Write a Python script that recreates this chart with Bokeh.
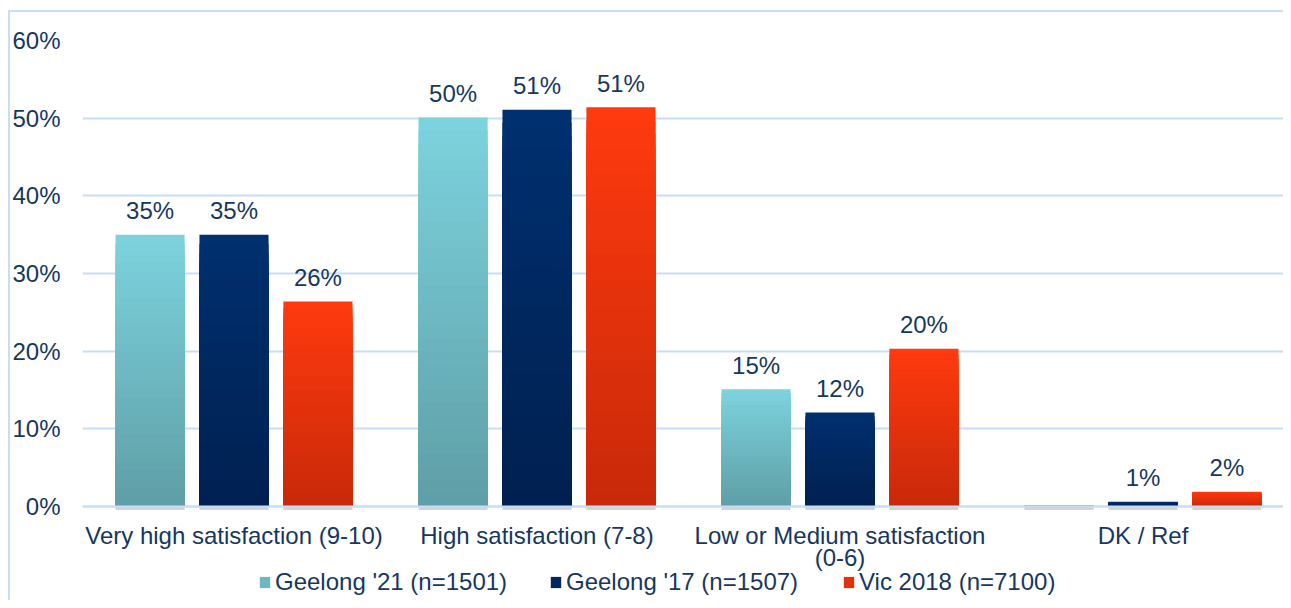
from bokeh.plotting import figure
from bokeh.models import Range1d, Legend, LegendItem, ColumnDataSource, FixedTicker
from bokeh.embed import file_html
from bokeh.resources import INLINE
from bokeh.core.properties import value

# ---- data ----
categories = ["Very high satisfaction (9-10)", "High satisfaction (7-8)",
              "Low or Medium satisfaction\n(0-6)", "DK / Ref"]
series_names = ["Geelong '21 (n=1501)", "Geelong '17 (n=1507)", "Vic 2018 (n=7100)"]
geelong21 = [35.0, 50.1, 15.1, 0.2]
geelong17 = [35.0, 51.1, 12.1, 0.6]
vic2018 = [26.4, 51.4, 20.3, 1.9]
y_ticks = [0, 10, 20, 30, 40, 50, 60]
y_tick_labels = ["0%", "10%", "20%", "30%", "40%", "50%", "60%"]

# ---- styles ----
FONT = "Liberation Sans"
TEXT = "#17375E"
GRID = "#C6DFF8"
BORDER = "#C6DFF7"
tops = [(125, 211, 222), (0, 48, 112), (255, 58, 14)]
bottoms = [(94, 158, 166), (0, 32, 80), (200, 41, 10)]
offsets = [-0.277, 0.0, 0.277]
legend_x = [176, 467, 760]
BAR_W = 0.228
N = 30
PLOT_W, LEFT = 1283, 82
CAT_PX = 303.0  # pixel width of one category slot (chart extends past the right edge)

# category slot centres (0.5, 1.5, ...) on a linear scale
cat_x = [i + 0.5 for i in range(len(categories))]

p = figure(x_range=Range1d(0, (PLOT_W - LEFT) / CAT_PX),
           y_range=Range1d(-12.1, 60),
           width=PLOT_W, height=600, output_backend="svg", toolbar_location=None,
           min_border_left=LEFT, min_border_right=0, min_border_top=40, min_border_bottom=0)
p.styles = {"background": ("linear-gradient(%s,%s) 8px 10px / 2px 100%% no-repeat, "
                           "linear-gradient(%s,%s) 8px 10px / 100%% 2px no-repeat, white")
            % (BORDER, BORDER, BORDER, BORDER)}
p.outline_line_color = None
p.background_fill_color = None
p.border_fill_color = None

series_values = [geelong21, geelong17, vic2018]
for s, vals in enumerate(series_values):
    xs = [c + offsets[s] for c in cat_x]
    # soft shadow under bar base
    ssrc = ColumnDataSource(dict(x=xs))
    p.vbar(x="x", top=0, bottom=-0.45, width=BAR_W, source=ssrc,
           fill_color="#B8B8B8", fill_alpha=0.6, line_color=None)

    legend_r = None
    for k in range(N):
        f = 1.0 - k / N
        h = f - 0.5 / N
        c = tuple(int(round(bottoms[s][i] + (tops[s][i] - bottoms[s][i]) * h)) for i in range(3))
        col = "#%02x%02x%02x" % c
        src = ColumnDataSource(dict(x=xs, top=[v * f for v in vals]))
        r = p.vbar(x="x", top="top", bottom=0, width=BAR_W, source=src,
                   fill_color=col, line_color=None)
        if k == N // 2:
            legend_r = r

    legend = Legend(items=[LegendItem(label=series_names[s], renderers=[legend_r])],
                    orientation="horizontal", location=(legend_x[s], 4),
                    label_text_font=FONT, label_text_font_size="24px", label_text_color=TEXT,
                    glyph_width=13, glyph_height=14, label_standoff=4, spacing=0,
                    padding=0, margin=0, border_line_color=None, background_fill_alpha=0)
    p.add_layout(legend, "center")

    labels = [("%d%%" % round(v)) if v >= 0.5 else "" for v in vals]
    lsrc = ColumnDataSource(dict(x=xs, y=vals, text=labels))
    p.text(x="x", y="y", text="text", source=lsrc,
           text_align="center", text_baseline="alphabetic", y_offset=-24,
           text_font=value(FONT), text_font_size="24px", text_color=TEXT)

# axes
p.yaxis.ticker = FixedTicker(ticks=y_ticks)
p.yaxis.major_label_overrides = {t: l for t, l in zip(y_ticks, y_tick_labels)}
p.yaxis.axis_line_color = None
p.yaxis.major_tick_line_color = None
p.yaxis.minor_tick_line_color = None
p.yaxis.major_tick_out = 0
p.yaxis.major_label_standoff = 22
p.yaxis.major_label_text_font = FONT
p.yaxis.major_label_text_font_size = "24px"
p.yaxis.major_label_text_color = TEXT

p.xaxis.fixed_location = 0
p.xaxis.ticker = FixedTicker(ticks=cat_x)
p.xaxis.major_label_overrides = {x: c for x, c in zip(cat_x, categories)}
p.xaxis.axis_line_color = GRID
p.xaxis.axis_line_width = 2
p.xaxis.major_tick_line_color = None
p.xaxis.minor_tick_line_color = None
p.xaxis.major_tick_out = 0
p.xaxis.major_label_standoff = 15
p.xaxis.major_label_text_font = FONT
p.xaxis.major_label_text_font_size = "24px"
p.xaxis.major_label_text_color = TEXT
p.xaxis.major_label_text_line_height = 0.84

p.xgrid.grid_line_color = None
p.ygrid.grid_line_color = GRID
p.ygrid.grid_line_width = 2

open("out.html", "w").write(file_html(p, INLINE))
